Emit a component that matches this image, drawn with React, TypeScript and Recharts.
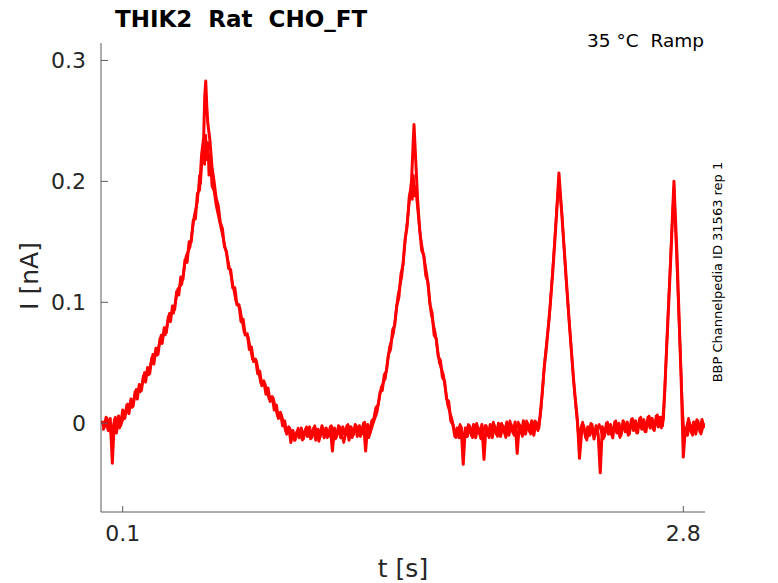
import React from "react";
import { LineChart, Line, XAxis, YAxis } from "recharts";

// time [s], current [nA], segment by segment (rep 1)
const baselineA: [number, number][] = [
  [0.0, 0.002], [0.01, -0.004], [0.02, 0.005], [0.03, -0.006], [0.04, 0.004],
  [0.05, -0.033], [0.06, 0.003], [0.07, -0.008], [0.08, 0.006], [0.09, -0.002],
];
const ramp1: [number, number][] = [
  [0.1, 0.011], [0.11, 0.004], [0.12, 0.015], [0.13, 0.008], [0.14, 0.02],
  [0.15, 0.014], [0.16, 0.026], [0.17, 0.02], [0.18, 0.032], [0.19, 0.027],
  [0.2, 0.039], [0.21, 0.034], [0.22, 0.046], [0.23, 0.041], [0.24, 0.054],
  [0.25, 0.049], [0.26, 0.062], [0.27, 0.057], [0.28, 0.07], [0.29, 0.066],
  [0.3, 0.079], [0.31, 0.075], [0.32, 0.088], [0.33, 0.084], [0.34, 0.097],
  [0.35, 0.094], [0.36, 0.109], [0.37, 0.106], [0.38, 0.121], [0.39, 0.119],
  [0.4, 0.135], [0.41, 0.133], [0.42, 0.15], [0.43, 0.15], [0.44, 0.168],
  [0.45, 0.169], [0.46, 0.19], [0.47, 0.193], [0.48, 0.222], [0.49, 0.236],
  [0.495, 0.27], [0.5, 0.283], [0.505, 0.262], [0.51, 0.248], [0.52, 0.234],
  [0.53, 0.212], [0.54, 0.2], [0.55, 0.186], [0.56, 0.18], [0.57, 0.166],
  [0.58, 0.161], [0.59, 0.146], [0.6, 0.142], [0.61, 0.128], [0.62, 0.127],
  [0.63, 0.112], [0.64, 0.112], [0.65, 0.098], [0.66, 0.098], [0.67, 0.084],
  [0.68, 0.086], [0.69, 0.073], [0.7, 0.074], [0.71, 0.061], [0.72, 0.063],
  [0.73, 0.051], [0.74, 0.053], [0.75, 0.041], [0.76, 0.043], [0.77, 0.031],
  [0.78, 0.035], [0.79, 0.024], [0.8, 0.029], [0.81, 0.018], [0.82, 0.022],
  [0.83, 0.011], [0.84, 0.015], [0.85, 0.004], [0.86, 0.009], [0.87, -0.002],
  [0.88, 0.002], [0.89, -0.009], [0.9, -0.003], [0.91, -0.016], [0.92, -0.006],
  [0.93, -0.014], [0.94, -0.007],
];
const baselineB: [number, number][] = [
  [0.95, -0.012], [0.96, -0.004], [0.97, -0.013], [0.98, -0.005], [0.99, -0.011],
  [1.0, -0.003], [1.01, -0.012], [1.02, -0.004], [1.03, -0.014], [1.04, -0.005],
  [1.05, -0.01], [1.06, -0.002], [1.07, -0.012], [1.08, -0.004], [1.09, -0.011],
  [1.1, -0.003], [1.11, -0.023], [1.12, -0.004], [1.13, -0.011], [1.14, -0.002],
  [1.15, -0.012], [1.16, -0.003], [1.17, -0.01], [1.18, -0.002], [1.19, -0.014],
  [1.2, -0.003], [1.21, -0.01], [1.22, -0.001], [1.23, -0.011], [1.24, -0.002],
  [1.25, -0.009], [1.26, 0.0], [1.27, -0.023], [1.28, -0.001], [1.29, -0.008],
  [1.3, 0.002],
];
const ramp2: [number, number][] = [
  [1.31, 0.004], [1.32, 0.013], [1.33, 0.015], [1.34, 0.026], [1.35, 0.027],
  [1.36, 0.04], [1.37, 0.043], [1.38, 0.057], [1.39, 0.061], [1.4, 0.077],
  [1.41, 0.081], [1.42, 0.097], [1.43, 0.104], [1.44, 0.123], [1.45, 0.131],
  [1.46, 0.152], [1.47, 0.163], [1.48, 0.187], [1.49, 0.196], [1.5, 0.236],
  [1.503, 0.247], [1.51, 0.222], [1.52, 0.186], [1.53, 0.161], [1.54, 0.143],
  [1.55, 0.139], [1.56, 0.122], [1.57, 0.117], [1.58, 0.098], [1.59, 0.091],
  [1.6, 0.073], [1.61, 0.07], [1.62, 0.055], [1.63, 0.052], [1.64, 0.038],
  [1.65, 0.035], [1.66, 0.02], [1.67, 0.018], [1.68, 0.002], [1.69, -0.001],
  [1.7, -0.011], [1.71, -0.004], [1.72, -0.012], [1.73, -0.003], [1.74, -0.034],
  [1.75, -0.004],
];
const baselineC: [number, number][] = [
  [1.76, -0.011], [1.77, -0.002], [1.78, -0.01], [1.79, -0.001], [1.8, -0.012],
  [1.81, -0.003], [1.82, -0.009], [1.83, -0.001], [1.84, -0.03], [1.85, -0.002],
  [1.86, -0.01], [1.87, -0.001], [1.88, -0.012], [1.89, -0.002], [1.9, -0.009],
  [1.91, 0.0], [1.92, -0.011], [1.93, -0.002], [1.94, -0.008], [1.95, 0.001],
  [1.96, -0.01], [1.97, -0.001], [1.98, -0.008], [1.99, 0.001], [2.0, -0.025],
  [2.01, -0.001], [2.02, -0.008], [2.03, 0.002], [2.04, -0.009], [2.05, 0.0],
  [2.06, -0.007], [2.07, 0.002], [2.08, -0.01], [2.09, 0.001], [2.1, -0.006],
];
const ramp3: [number, number][] = [
  [2.11, 0.006], [2.12, 0.024], [2.13, 0.046], [2.14, 0.061], [2.15, 0.08],
  [2.16, 0.1], [2.17, 0.122], [2.18, 0.147], [2.19, 0.174], [2.2, 0.204],
  [2.201, 0.207], [2.21, 0.185], [2.22, 0.16], [2.23, 0.135], [2.24, 0.11],
  [2.25, 0.085], [2.26, 0.062], [2.27, 0.039], [2.28, 0.02], [2.29, 0.003],
  [2.3, -0.029], [2.31, -0.008],
];
const baselineD: [number, number][] = [
  [2.32, -0.002], [2.33, -0.012], [2.34, -0.003], [2.35, -0.01], [2.36, -0.001],
  [2.37, -0.013], [2.38, -0.002], [2.39, -0.009], [2.4, -0.041], [2.41, -0.003],
  [2.42, -0.011], [2.43, 0.0], [2.44, -0.009], [2.45, -0.001], [2.46, -0.012],
  [2.47, 0.001], [2.48, -0.008], [2.49, 0.0], [2.5, -0.01], [2.51, 0.002],
  [2.52, -0.007], [2.53, 0.001], [2.54, -0.009], [2.55, 0.003], [2.56, -0.006],
  [2.57, 0.002], [2.58, -0.008], [2.59, 0.004], [2.6, -0.005], [2.61, 0.003],
  [2.62, -0.007], [2.63, 0.005], [2.64, -0.004], [2.65, 0.004], [2.66, -0.006],
  [2.67, 0.006], [2.68, -0.003], [2.69, 0.005], [2.7, -0.002],
];
const ramp4: [number, number][] = [
  [2.71, 0.025], [2.72, 0.063], [2.73, 0.1], [2.74, 0.138], [2.75, 0.18],
  [2.755, 0.2], [2.76, 0.178], [2.77, 0.138], [2.78, 0.086], [2.79, 0.035],
  [2.8, -0.028], [2.81, -0.004], [2.82, -0.01], [2.83, 0.0], [2.84, -0.008],
  [2.85, 0.001], [2.86, -0.009], [2.87, 0.002], [2.88, -0.007], [2.89, 0.003],
  [2.9, -0.004],
];

// a second repetition, overlapping rep 1 and separating near the first two peaks
const rep2Seg1: [number, number][] = [
  [0.005, -0.006], [0.025, 0.004], [0.045, -0.009], [0.065, 0.005], [0.085, -0.004],
  [0.105, 0.005], [0.125, 0.016], [0.145, 0.013], [0.165, 0.028], [0.185, 0.026],
  [0.205, 0.042], [0.225, 0.04], [0.245, 0.057], [0.265, 0.056], [0.285, 0.073],
  [0.305, 0.073], [0.325, 0.091], [0.345, 0.091], [0.365, 0.111], [0.385, 0.115],
  [0.405, 0.138], [0.425, 0.146], [0.445, 0.172],
];
const rep2Peak1: [number, number][] = [
  [0.46, 0.183], [0.47, 0.205], [0.475, 0.198], [0.48, 0.212], [0.49, 0.228],
  [0.495, 0.214], [0.5, 0.238], [0.505, 0.218], [0.51, 0.232], [0.515, 0.205],
  [0.52, 0.222], [0.53, 0.196], [0.54, 0.192], [0.55, 0.18], [0.56, 0.172],
  [0.58, 0.156], [0.6, 0.14], [0.62, 0.124],
];
const rep2Seg2: [number, number][] = [
  [0.645, 0.101], [0.665, 0.095], [0.685, 0.075], [0.705, 0.071], [0.725, 0.053],
  [0.745, 0.051], [0.765, 0.033], [0.785, 0.033], [0.805, 0.02], [0.825, 0.021],
  [0.845, 0.006], [0.865, 0.007], [0.885, -0.007], [0.905, -0.004], [0.925, -0.014],
  [0.945, -0.004], [0.965, -0.014], [0.985, -0.003], [1.005, -0.013], [1.025, -0.002],
  [1.045, -0.015], [1.065, -0.004], [1.085, -0.012], [1.105, -0.002], [1.125, -0.013],
  [1.145, -0.003], [1.165, -0.016], [1.185, -0.001], [1.205, -0.012], [1.225, -0.002],
  [1.245, -0.011], [1.265, 0.001], [1.285, -0.012], [1.305, -0.001],
  [1.325, 0.009], [1.345, 0.03], [1.365, 0.037], [1.385, 0.063], [1.405, 0.075],
  [1.425, 0.105], [1.445, 0.122],
];
const rep2Peak2: [number, number][] = [
  [1.46, 0.15], [1.48, 0.182], [1.49, 0.2], [1.495, 0.185], [1.5, 0.205],
  [1.505, 0.188], [1.51, 0.196], [1.52, 0.178], [1.53, 0.16], [1.54, 0.148],
];
const rep2Seg3: [number, number][] = [
  [1.565, 0.123], [1.585, 0.091], [1.605, 0.075], [1.625, 0.05], [1.645, 0.04],
  [1.665, 0.015], [1.685, 0.004], [1.705, -0.012], [1.725, -0.001], [1.745, -0.013],
  [1.765, -0.001], [1.785, -0.012], [1.805, 0.0], [1.825, -0.013], [1.845, -0.002],
  [1.865, -0.012], [1.885, 0.001], [1.905, -0.011], [1.925, 0.0], [1.945, -0.012],
  [1.965, 0.002], [1.985, -0.01], [2.005, 0.001], [2.025, -0.011], [2.045, 0.002],
  [2.065, -0.009], [2.085, 0.002], [2.105, -0.004],
  [2.115, 0.012], [2.135, 0.056], [2.155, 0.088], [2.175, 0.137], [2.195, 0.189],
  [2.201, 0.2], [2.215, 0.174], [2.235, 0.12], [2.255, 0.074], [2.275, 0.028],
  [2.295, -0.01], [2.315, 0.001], [2.335, -0.014], [2.355, 0.0], [2.375, -0.01],
  [2.395, -0.001], [2.415, -0.013], [2.435, 0.001], [2.455, -0.01], [2.475, 0.002],
  [2.495, -0.012], [2.515, 0.001], [2.535, -0.01], [2.555, 0.004], [2.575, -0.008],
  [2.595, 0.005], [2.615, -0.007], [2.635, 0.006], [2.655, -0.005], [2.675, 0.007],
  [2.695, -0.004], [2.705, 0.004], [2.725, 0.085], [2.745, 0.16], [2.755, 0.195],
  [2.765, 0.15], [2.785, 0.06], [2.795, 0.015], [2.805, -0.012], [2.825, 0.004],
  [2.845, -0.01], [2.865, 0.003], [2.885, -0.009], [2.9, 0.0],
];

const xTicks = [0.1, 2.8];
const yTicks = [0, 0.1, 0.2, 0.3];

const toPoints = (arr: [number, number][]) => arr.map(([t, i]) => ({ t, i }));
const rep1 = toPoints([
  ...baselineA, ...ramp1, ...baselineB, ...ramp2, ...baselineC, ...ramp3, ...baselineD, ...ramp4,
]);
const rep2 = toPoints([...rep2Seg1, ...rep2Peak1, ...rep2Seg2, ...rep2Peak2, ...rep2Seg3]);

const FONT = "DejaVu Sans, sans-serif";
const TICK_COLOR = "#262626";

export default function App() {
  return (
    <div style={{ position: "absolute", left: 0, top: 0, width: 778, height: 583, background: "#fff" }}>
      <LineChart
        width={778}
        height={583}
        margin={{ top: 43, right: 73, bottom: 31, left: 41 }}
      >
        <XAxis
          type="number"
          dataKey="t"
          domain={[-0.0045, 2.9045]}
          allowDataOverflow
          ticks={xTicks}
          tickFormatter={(v: number) => String(v)}
          height={40}
          tickSize={-6}
          tickMargin={19}
          stroke="#5a5a5a"
          tick={{ fill: TICK_COLOR, fontSize: 22, fontFamily: FONT }}
        />
        <YAxis
          type="number"
          dataKey="i"
          domain={[-0.0734, 0.3144]}
          allowDataOverflow
          ticks={yTicks}
          tickFormatter={(v: number) => (v === 0 ? "0" : String(v))}
          width={60}
          tickSize={-7}
          tickMargin={22}
          stroke="#5a5a5a"
          tick={{ fill: TICK_COLOR, fontSize: 22, fontFamily: FONT }}
        />
        <Line data={rep2} dataKey="i" stroke="#ff0000" strokeWidth={2.6} strokeLinejoin="round" dot={false} isAnimationActive={false} type="linear" />
        <Line data={rep1} dataKey="i" stroke="#ff0000" strokeWidth={3} strokeLinejoin="round" dot={false} isAnimationActive={false} type="linear" />
      </LineChart>
      <svg width={778} height={583} style={{ position: "absolute", left: 0, top: 0, pointerEvents: "none" }}>
        <text x={115} y={27} fontFamily={FONT} fontSize={23} fontWeight="bold" fill="#000">
          THIK2{"\u00a0\u00a0"}Rat{"\u00a0\u00a0"}CHO_FT
        </text>
        <text x={704} y={47} textAnchor="end" fontFamily={FONT} fontSize={18.5} fill="#000">
          35 °C{"\u00a0\u00a0"}Ramp
        </text>
        <text
          x={722}
          y={272}
          textAnchor="middle"
          fontFamily={FONT}
          fontSize={13}
          fill="#000"
          transform="rotate(-90 722 272)"
        >
          BBP Channelpedia ID 31563 rep 1
        </text>
        <text
          x={38}
          y={276}
          textAnchor="middle"
          fontFamily={FONT}
          fontSize={25}
          fill={TICK_COLOR}
          transform="rotate(-90 38 276)"
        >
          I [nA]
        </text>
        <text x={403} y={577} textAnchor="middle" fontFamily={FONT} fontSize={25} fill={TICK_COLOR}>
          t [s]
        </text>
      </svg>
    </div>
  );
}
